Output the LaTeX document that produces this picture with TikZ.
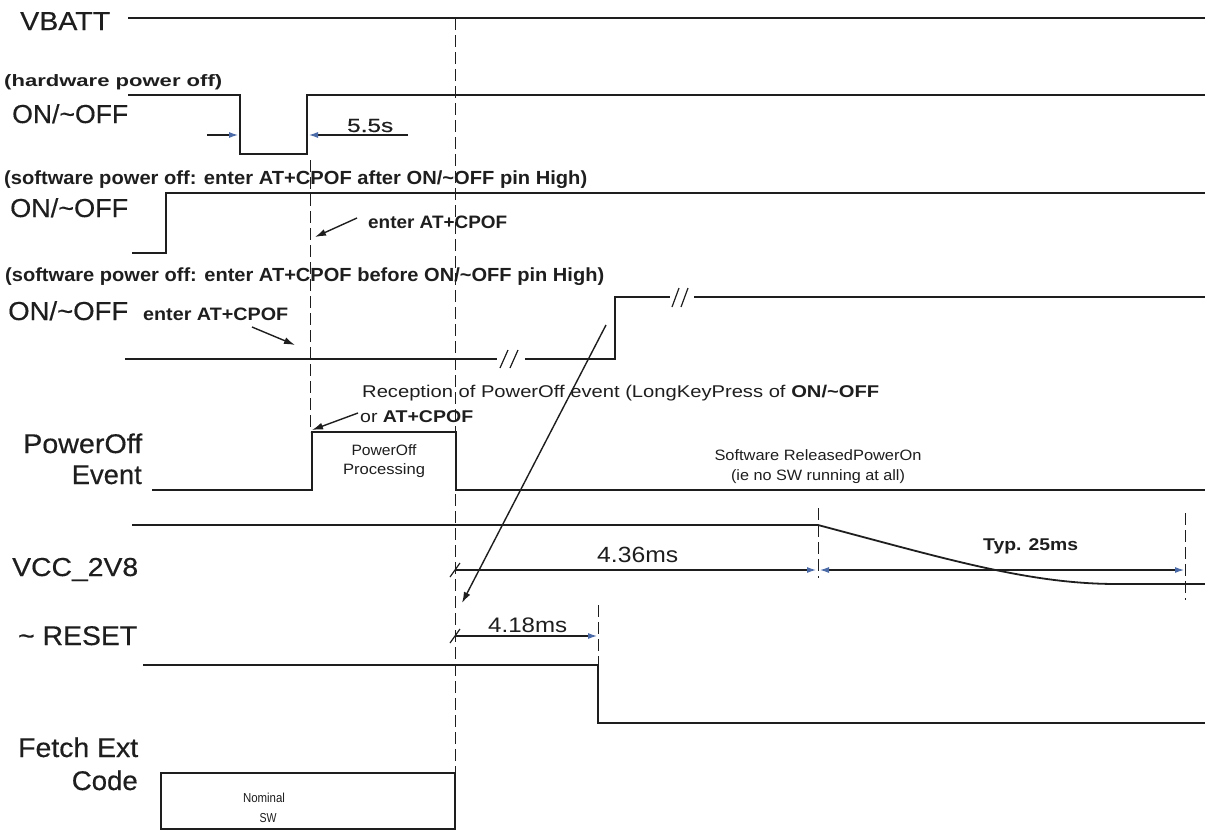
\documentclass[tikz,border=0pt]{standalone}
\usepackage{fontspec}
\setmainfont{Liberation Sans}
\newfontfamily\lblfont{Liberation Sans}[FakeBold=0.4]
\usepackage{graphicx}
\usetikzlibrary{arrows.meta}
\definecolor{ink}{HTML}{1E1E1E}
\definecolor{dimblue}{HTML}{4A6AA8}
\newcommand{\wfit}[2]{\resizebox{#1}{\height}{#2}}
\newcommand{\sz}[1]{\fontsize{#1}{#1}\selectfont}
\newcommand{\onoff}{ON/\textasciitilde OFF}
\begin{document}
\begin{tikzpicture}[x=1pt,y=-1pt,
  sig/.style={draw=ink, line width=1.8pt, line join=miter},
  guide/.style={draw=ink, line width=1pt, dash pattern=on 12pt off 5pt},
  lbl/.style={inner sep=0pt, anchor=base west, text=ink},
  lblr/.style={lbl, anchor=base east},
  lblc/.style={lbl, anchor=base},
  dimarrow/.style={draw=ink, line width=1.1pt, -{Latex[length=9pt,width=6pt,color=dimblue]}},
  dimboth/.style={draw=ink, line width=1.1pt, {Latex[length=9pt,width=6pt,color=dimblue]}-{Latex[length=9pt,width=6pt,color=dimblue]}},
  callout/.style={draw=ink, line width=1.4pt, -{Latex[length=11pt,width=7pt]}},
  brk/.style={draw=ink, line width=1.2pt}]
\useasboundingbox[fill=white] (0,0) rectangle (1205,830);

% ---------- guide lines ----------
\draw[guide] (455,18) -- (455,830);
\draw[guide] (310,160) -- (310,432);
\draw[guide] (818,508) -- (818,578);
\draw[guide] (1185,513) -- (1185,600);
\draw[guide] (598,605) -- (598,665);

% ---------- signals ----------
\draw[sig] (128,18) -- (1205,18);
\draw[sig] (128,95) -- (240,95) -- (240,154) -- (307,154) -- (307,95) -- (1205,95);
\draw[sig] (132,253) -- (166,253) -- (166,193) -- (1205,193);
\draw[sig] (125,359) -- (497,359);
\draw[sig] (525,359) -- (615,359) -- (615,297) -- (670,297);
\draw[sig] (694,297) -- (1205,297);
\draw[brk] (500,368) -- (508,350);
\draw[brk] (510,368) -- (518,350);
\draw[brk] (672,307) -- (679,288);
\draw[brk] (681,307) -- (688,288);
\draw[sig] (152,490) -- (312,490) -- (312,432) -- (456,432) -- (456,490) -- (1205,490);
\draw[sig] (132,525) -- (818,525) .. controls (950,560) and (1030,584) .. (1117,584) -- (1205,584);
\draw[sig] (143,665) -- (598,665) -- (598,723) -- (1205,723);
\draw[sig] (161,829) -- (161,773) -- (455,773) -- (455,829) -- cycle;

% ---------- labels ----------
\node[lbl, font=\lblfont\sz{26}] (vbatt) at (20,30) {\wfit{90pt}{VBATT}};
\node[lbl, font=\bfseries\sz{16.5}] (hwhead) at (4,86) {\wfit{218pt}{(hardware power off)}};
\node[lbl, font=\lblfont\sz{26}] (on1) at (12,123) {\wfit{116pt}{\onoff}};
\node[lbl, font=\lblfont\sz{19}] (t55) at (347,132) {\wfit{46pt}{5.5s}};
\node[lbl, font=\bfseries\sz{19}] (sw1head) at (4,184) {\wfit{583pt}{(software power off: enter AT+CPOF after \onoff{} pin High)}};
\node[lbl, font=\lblfont\sz{26}] (on2) at (10,217) {\wfit{118pt}{\onoff}};
\node[lbl, font=\bfseries\sz{18}] (cpof1) at (368,228) {\wfit{139pt}{enter AT+CPOF}};
\node[lbl, font=\bfseries\sz{19}] (sw2head) at (5,281) {\wfit{599pt}{(software power off: enter AT+CPOF before \onoff{} pin High)}};
\node[lbl, font=\lblfont\sz{26}] (on3) at (8,320) {\wfit{120pt}{\onoff}};
\node[lbl, font=\bfseries\sz{18}] (cpof2) at (143,320) {\wfit{145pt}{enter AT+CPOF}};
\node[lbl, font=\sz{17}] (recep) at (362,397) {\wfit{517pt}{Reception of PowerOff event (LongKeyPress of \textbf{\onoff}}};
\node[lbl, font=\sz{17}] (orcpof) at (360,422) {\wfit{113pt}{or \textbf{AT+CPOF}}};
\node[lbl, font=\lblfont\sz{27}] (pwrlbl) at (23,453) {\wfit{119pt}{PowerOff}};
\node[lblr, font=\lblfont\sz{27}] (evtlbl) at (142,484) {\wfit{70pt}{Event}};
\node[lblc, font=\sz{15}] (proc1) at (384,455) {\wfit{65pt}{PowerOff}};
\node[lblc, font=\sz{15}] (proc2) at (384,474) {\wfit{82pt}{Processing}};
\node[lblc, font=\sz{15}] (rel1) at (818,460) {\wfit{207pt}{Software ReleasedPowerOn}};
\node[lblc, font=\sz{15}] (rel2) at (818,480) {\wfit{174pt}{(ie no SW running at all)}};
\node[lbl, font=\lblfont\sz{26}] (vcclbl) at (12,576) {\wfit{126pt}{VCC\_2V8}};
\node[lbl, font=\sz{22}] (t436) at (597,562) {\wfit{81pt}{4.36ms}};
\node[lbl, font=\bfseries\sz{17}] (t25) at (983,550) {\wfit{95pt}{Typ. 25ms}};
\node[lbl, font=\lblfont\sz{27}] (rstlbl) at (18,645) {\wfit{119pt}{\textasciitilde{} RESET}};
\node[lbl, font=\sz{21}] (t418) at (488,632) {\wfit{79pt}{4.18ms}};
\node[lbl, font=\lblfont\sz{27}] (fetch1) at (18,757) {\wfit{120pt}{Fetch Ext}};
\node[lblr, font=\lblfont\sz{27}] (fetch2) at (138,790) {\wfit{66pt}{Code}};
\node[lblc, font=\sz{13}] (nom1) at (264,802) {\wfit{42pt}{Nominal}};
\node[lblc, font=\sz{13}] (nom2) at (268,822) {\wfit{17pt}{SW}};

% ---------- arrow end points ----------
\coordinate (a55l0) at (207,135); \coordinate (a55l1) at (238,135);
\coordinate (a55r0) at (408,135); \coordinate (a55r1) at (309,135);
\coordinate (c1a) at (357,218); \coordinate (c1b) at (315,237);
\coordinate (c2a) at (252,327); \coordinate (c2b) at (295,345);
\coordinate (c3a) at (358,413); \coordinate (c3b) at (312,430);
\coordinate (longa) at (606,325); \coordinate (longb) at (462,603);
\coordinate (d1a) at (455,570); \coordinate (d1b) at (816,570);
\coordinate (d2a) at (820,570); \coordinate (d2b) at (1184,570);
\coordinate (d3a) at (455,636); \coordinate (d3b) at (597,636);

% ---------- arrows ----------
\draw[dimarrow] (a55l0) -- (a55l1);
\draw[dimarrow] (a55r0) -- (a55r1);
\draw[callout] (c1a) -- (c1b);
\draw[callout] (c2a) -- (c2b);
\draw[callout] (c3a) -- (c3b);
\draw[callout] (longa) -- (longb);
\draw[dimarrow] (d1a) -- (d1b);
\draw[dimboth] (d2a) -- (d2b);
\draw[dimarrow] (d3a) -- (d3b);
\draw[brk] (450,577) -- (460,563);
\draw[brk] (450,643) -- (460,629);
\end{tikzpicture}
\end{document}
